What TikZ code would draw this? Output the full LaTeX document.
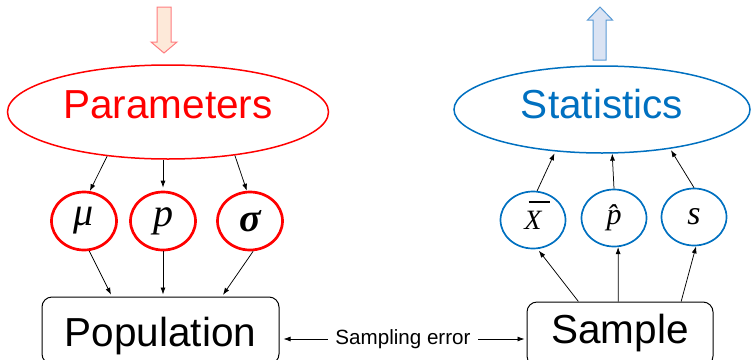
\documentclass[tikz,border=0pt]{standalone}
\usepackage{fontspec}
\setmainfont{Liberation Sans}
\newfontfamily\tms{Liberation Serif}
\usetikzlibrary{shapes.geometric,arrows.meta,calc}
\definecolor{pred}{HTML}{FF0000}
\definecolor{sblue}{HTML}{0070C0}
\definecolor{dfill}{HTML}{FDE9D9}
\definecolor{dline}{HTML}{FF7C80}
\definecolor{ufill}{HTML}{DAE3F3}
\definecolor{uline}{HTML}{5B9BD5}
\newcommand\xbarsym{\smash{\makebox[0pt][l]{\hspace{0.15em}\raisebox{0.95em}{\rule{0.75em}{0.05em}}}}X}
\begin{document}
\begin{tikzpicture}[x=1pt,y=-1pt,
  big/.style={ellipse, draw, line width=1.5pt, inner sep=0pt, font=\fontsize{40.5}{44}\selectfont},
  redc/.style={ellipse, draw=pred, line width=2.7pt, inner sep=0pt, minimum width=65pt, minimum height=58pt, font=\tms\itshape\fontsize{40}{42}\selectfont},
  bluec/.style={ellipse, draw=sblue, line width=1.7pt, inner sep=0pt, minimum width=65pt, minimum height=57pt, font=\tms\itshape\fontsize{30}{32}\selectfont},
  box/.style={draw, rounded corners=10pt, line width=1pt, inner sep=0pt, font=\fontsize{40.5}{44}\selectfont},
  con/.style={-{Latex[length=7pt,width=5pt]}, line width=0.75pt},
  biarrow/.style={{Latex[length=7pt,width=5pt]}-{Latex[length=7pt,width=5pt]}, line width=0.75pt},
  blockdown/.style={draw=dline, fill=dfill, line width=1pt, line join=miter},
  blockup/.style={draw=uline, fill=ufill, line width=1pt, line join=miter},
]
\useasboundingbox (0,0) rectangle (754,359);

% block arrows
\draw[blockdown] (157,7) -- (171,7) -- (171,42) -- (177,42) -- (164,53) -- (151,42) -- (157,42) -- cycle;
\draw[blockup] (600,7) -- (612.5,20) -- (606,20) -- (606,60) -- (593,60) -- (593,20) -- (587.5,20) -- cycle;

% top ellipses
\node[big, draw=pred, text=pred, minimum width=321pt, minimum height=94pt, text depth=14pt] (par) at (168,112) {Parameters};
\node[big, draw=sblue, text=sblue, minimum width=296pt, minimum height=87pt, text depth=12pt] (stat) at (602,109.5) {Statistics};

% parameter circles
\node[redc] (mu) at (84,221) {μ};
\node[redc] (pn) at (163,221) {p};
\node[redc] (sg) at (250,221) {\bfseries σ};

% statistic circles
\node[bluec, font=\tms\itshape\fontsize{28}{30}\selectfont] (xb) at (533,220) {\xbarsym};
\node[bluec] (ph) at (614,218) {\^{p}};
\node[bluec, font=\tms\itshape\fontsize{34}{36}\selectfont] (sn) at (694,217) {s};

% bottom boxes
\node[box, minimum width=237pt, minimum height=67pt, text height=40pt, text depth=8.5pt] (pop) at (160.5,330.5) {Population};
\node[box, minimum width=186pt, minimum height=64pt, text height=29.6pt, text depth=11.5pt] (samp) at (620,334) {Sample};

% parameters -> circles
\draw[con] (par.216) -- (mu.79);
\draw[con, shorten >=3pt] (pn.north |- par.south) -- (pn.north);
\draw[con] (par.327) -- (sg.96);

% circles -> population
\draw[con, shorten >=2pt] (mu.280) -- (pop.145.4);
\draw[con, shorten >=2pt] (pn.south) -- (pn.south |- pop.north);
\draw[con, shorten >=2pt] (sg.276) -- (pop.29);

% sample -> statistic circles
\draw[con, shorten >=2pt] (samp.142.7) -- (xb.279);
\draw[con] (samp.93.6) -- (ph.278);
\draw[con] (samp.28.5) -- (sn.274);

% statistic circles -> statistics
\draw[con, shorten >=2pt] (xb.82) -- (stat.222);
\draw[con] (ph.north) -- (stat.283);
\draw[con, shorten >=1.5pt] (sn.north) -- (stat.330);

% sampling error
\coordinate (se) at (403,339);
\draw[biarrow, shorten <=4pt, shorten >=2pt] (se -| pop.east) -- node[fill=white, inner xsep=7pt, inner ysep=2pt, font=\fontsize{20.6}{24}\selectfont] (selab) {Sampling error} (se -| samp.west);
\end{tikzpicture}
\end{document}
